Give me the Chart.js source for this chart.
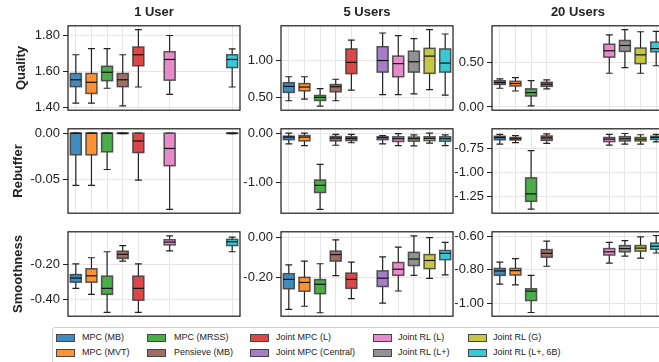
<!DOCTYPE html>
<html>
<head>
<meta charset="utf-8">
<script src="https://cdn.jsdelivr.net/npm/chart.js@4.4.0/dist/chart.umd.min.js"></script>
<style>
  body { margin: 0; width: 659px; height: 362px; overflow: hidden; background: #fff;
         position: relative; font-family: "Liberation Sans", Arial, sans-serif; color: #222; }
  canvas { position: absolute; }
  .title { position: absolute; font-weight: bold; font-size: 13px; transform: translate(-50%, -50%); white-space: nowrap; }
  .ylab { position: absolute; font-weight: bold; font-size: 13px; transform: translate(-50%, -50%) rotate(-90deg); white-space: nowrap; }
  #legend { position: absolute; left: 52px; top: 327px; width: 700px; height: 36px;
            border: 1px solid #cfcfcf; border-radius: 3px; background: #fff; }
  .item { position: absolute; font-size: 9px; line-height: 10px; white-space: nowrap; }
  .sw { position: absolute; width: 17px; height: 6px; border: 1px solid #444; }
</style>
</head>
<body>
<div id="legend"></div>
<script>
'use strict'
const methods = ['MPC (MB)', 'MPC (MVT)', 'MPC (MRSS)', 'Pensieve (MB)', 'Joint MPC (L)',
    'Joint MPC (Central)', 'Joint RL (L)', 'Joint RL (L+)', 'Joint RL (G)', 'Joint RL (L+, 6B)'];
const colors = ['#1f77b4', '#ff7f0e', '#2ca02c', '#8c564b', '#d62728',
    '#9467bd', '#e377c2', '#7f7f7f', '#bcbd22', '#17becf'];
const userGroups = ['1 User', '5 Users', '20 Users'];
const metrics = ['Quality', 'Rebuffer', 'Smoothness'];

// one row per box: [method, slot, whisker low, q1, median, q3, whisker high]
const quality1 = [
    [0, 0, 1.424, 1.516, 1.554, 1.589, 1.693],
    [1, 1, 1.424, 1.478, 1.540, 1.589, 1.727],
    [2, 2, 1.507, 1.549, 1.596, 1.629, 1.727],
    [3, 3, 1.409, 1.516, 1.554, 1.589, 1.693],
    [4, 4, 1.514, 1.632, 1.693, 1.736, 1.833],
    [6, 6, 1.473, 1.552, 1.667, 1.710, 1.800],
    [9, 10, 1.514, 1.622, 1.667, 1.693, 1.726]
];
const quality5 = [
    [0, 0, 0.458, 0.572, 0.653, 0.703, 0.784],
    [1, 1, 0.479, 0.593, 0.644, 0.691, 0.784],
    [2, 2, 0.386, 0.462, 0.504, 0.530, 0.623],
    [3, 3, 0.458, 0.580, 0.648, 0.678, 0.750],
    [4, 4, 0.602, 0.826, 0.979, 1.161, 1.280],
    [5, 6, 0.542, 0.847, 1.004, 1.191, 1.377],
    [6, 7, 0.542, 0.784, 0.962, 1.064, 1.343],
    [7, 8, 0.551, 0.847, 0.987, 1.131, 1.301],
    [8, 9, 0.610, 0.830, 1.064, 1.169, 1.424],
    [9, 10, 0.534, 0.847, 0.970, 1.161, 1.364]
];
const quality20 = [
    [0, 0, 0.211, 0.254, 0.275, 0.296, 0.317],
    [1, 1, 0.180, 0.236, 0.264, 0.289, 0.331],
    [2, 2, 0.011, 0.123, 0.162, 0.204, 0.296],
    [3, 3, 0.204, 0.232, 0.257, 0.278, 0.306],
    [6, 7, 0.380, 0.563, 0.634, 0.708, 0.813],
    [7, 8, 0.444, 0.627, 0.694, 0.750, 0.873],
    [8, 9, 0.380, 0.489, 0.588, 0.665, 0.849],
    [9, 10, 0.465, 0.623, 0.658, 0.732, 0.852]
];
const rebuffer1 = [
    [0, 0, -0.056, -0.0232, 0, 0, 0],
    [1, 1, -0.056, -0.0232, 0, 0, 0],
    [2, 2, -0.039, -0.020, 0, 0, 0],
    [3, 3, -0.0004, -0.0003, 0, 0, 0],
    [4, 4, -0.0503, -0.0208, -0.0084, 0, 0],
    [6, 6, -0.0819, -0.0349, -0.0164, 0, 0],
    [9, 10, -0.0004, -0.0003, 0, 0, 0]
];
const rebuffer5 = [
    [0, 0, -0.21, -0.122, -0.07, -0.051, 0.013],
    [1, 1, -0.244, -0.147, -0.07, -0.038, 0.013],
    [2, 2, -1.551, -1.205, -1.058, -0.949, -0.628],
    [3, 3, -0.237, -0.147, -0.09, -0.058, -0.013],
    [4, 4, -0.186, -0.141, -0.096, -0.064, -0.013],
    [5, 6, -0.21, -0.122, -0.083, -0.064, -0.038],
    [6, 7, -0.244, -0.16, -0.103, -0.064, 0],
    [7, 8, -0.25, -0.154, -0.103, -0.07, -0.026],
    [8, 9, -0.192, -0.141, -0.096, -0.064, 0.013],
    [9, 10, -0.244, -0.154, -0.103, -0.064, -0.026]
];
const rebuffer20 = [
    [0, 0, -0.701, -0.655, -0.632, -0.619, -0.600],
    [1, 1, -0.685, -0.658, -0.645, -0.632, -0.613],
    [2, 2, -1.381, -1.299, -1.221, -1.054, -0.770],
    [3, 3, -0.694, -0.662, -0.636, -0.616, -0.593],
    [6, 7, -0.711, -0.675, -0.649, -0.632, -0.600],
    [7, 8, -0.701, -0.668, -0.645, -0.623, -0.590],
    [8, 9, -0.701, -0.668, -0.649, -0.632, -0.603],
    [9, 10, -0.678, -0.652, -0.632, -0.619, -0.600]
];
const smooth1 = [
    [0, 0, -0.338, -0.302, -0.278, -0.258, -0.196],
    [1, 1, -0.373, -0.302, -0.265, -0.224, -0.160],
    [2, 2, -0.478, -0.373, -0.338, -0.267, -0.125],
    [3, 3, -0.180, -0.164, -0.140, -0.122, -0.089],
    [4, 4, -0.478, -0.407, -0.338, -0.267, -0.196],
    [6, 6, -0.120, -0.085, -0.069, -0.055, -0.033],
    [9, 10, -0.125, -0.089, -0.067, -0.053, -0.040]
];
const smooth5 = [
    [0, 0, -0.355, -0.254, -0.208, -0.180, -0.137],
    [1, 1, -0.340, -0.266, -0.223, -0.198, -0.118],
    [2, 2, -0.372, -0.278, -0.232, -0.209, -0.131],
    [3, 3, -0.189, -0.118, -0.086, -0.069, -0.014],
    [4, 4, -0.303, -0.252, -0.208, -0.177, -0.123],
    [5, 6, -0.325, -0.243, -0.202, -0.166, -0.097],
    [6, 7, -0.265, -0.188, -0.158, -0.125, -0.049],
    [7, 8, -0.188, -0.140, -0.108, -0.075, 0.006],
    [8, 9, -0.203, -0.155, -0.115, -0.086, -0.003],
    [9, 10, -0.186, -0.111, -0.080, -0.066, -0.026]
];
const smooth20 = [
    [0, 0, -0.885, -0.833, -0.807, -0.792, -0.754],
    [1, 1, -0.890, -0.831, -0.805, -0.792, -0.734],
    [2, 2, -1.054, -0.983, -0.927, -0.913, -0.833],
    [3, 3, -0.779, -0.725, -0.702, -0.680, -0.630],
    [6, 7, -0.760, -0.712, -0.693, -0.674, -0.637],
    [7, 8, -0.719, -0.693, -0.674, -0.656, -0.626],
    [8, 9, -0.730, -0.689, -0.671, -0.656, -0.604],
    [9, 10, -0.700, -0.678, -0.660, -0.641, -0.596]
];

// y tick labels and axis limits, row by row
const yTicks = [
    [[1.4, 1.6, 1.8], [0.5, 1.0], [0, 0.5]],
    [[-0.05, 0], [-1, 0], [-1.25, -1, -0.75]],
    [[-0.4, -0.2], [-0.2, 0], [-1, -0.8, -0.6]]
];
const yLimits = [
    [[1.385, 1.854], [0.33, 1.475], [-0.037, 0.916]],
    [[-0.0859, 0.0047], [-1.629, 0.10], [-1.423, -0.541]],
    [[-0.5, -0.009], [-0.389, 0.026], [-1.076, -0.574]]
];
const panelData = [
    [quality1, quality5, quality20],
    [rebuffer1, rebuffer5, rebuffer20],
    [smooth1, smooth5, smooth20]
];

const panelLeft = [68, 281, 492];
const panelTop = [23, 126, 229];
const panelW = 172, panelH = 90, axisW = 60, pad = 8;
const titleY = 11;
const ylabX = [20, 17, 17];
const FONT = '"Liberation Sans", Arial, sans-serif';

function rgba(hex, a) {
    let n = parseInt(hex.slice(1), 16);
    return 'rgba(' + (n >> 16) + ',' + ((n >> 8) & 255) + ',' + (n & 255) + ',' + a + ')';
}

let boxPlugin = {
    id: 'boxes',
    afterDatasetsDraw: function (chart) {
        let ctx = chart.ctx;
        let xs = chart.scales.x, ys = chart.scales.y;
        let slotW = xs.getPixelForValue(1) - xs.getPixelForValue(0);
        let halfBox = slotW * 0.35, halfCap = slotW * 0.22;
        chart.options.plugins.boxes.rows.forEach(function (r) {
            let cx = xs.getPixelForValue(r[1]);
            let yLo = ys.getPixelForValue(r[2]);
            let yQ1 = ys.getPixelForValue(r[3]);
            let yMed = ys.getPixelForValue(r[4]);
            let yQ3 = ys.getPixelForValue(r[5]);
            let yHi = ys.getPixelForValue(r[6]);
            ctx.save();
            // whiskers and caps
            ctx.strokeStyle = '#222';
            ctx.lineWidth = 1.2;
            ctx.beginPath();
            ctx.moveTo(cx, yHi); ctx.lineTo(cx, yQ3);
            ctx.moveTo(cx, yQ1); ctx.lineTo(cx, yLo);
            ctx.moveTo(cx - halfCap, yHi); ctx.lineTo(cx + halfCap, yHi);
            ctx.moveTo(cx - halfCap, yLo); ctx.lineTo(cx + halfCap, yLo);
            ctx.stroke();
            // box
            ctx.fillStyle = rgba(colors[r[0]], 0.85);
            ctx.fillRect(cx - halfBox, yQ3, halfBox * 2, yQ1 - yQ3);
            ctx.strokeStyle = 'rgba(60,60,60,0.85)';
            ctx.lineWidth = 1.5;
            ctx.strokeRect(cx - halfBox, yQ3, halfBox * 2, yQ1 - yQ3);
            // median
            ctx.strokeStyle = '#111';
            ctx.lineWidth = 1.2;
            ctx.beginPath();
            ctx.moveTo(cx - halfBox, yMed); ctx.lineTo(cx + halfBox, yMed);
            ctx.stroke();
            ctx.restore();
        });
    },
    afterDraw: function (chart) {
        // frame round the plot area
        let a = chart.chartArea, ctx = chart.ctx;
        ctx.save();
        ctx.strokeStyle = '#1a1a1a';
        ctx.lineWidth = 1.2;
        ctx.strokeRect(a.left, a.top, a.right - a.left, a.bottom - a.top);
        ctx.restore();
    }
};

for (let r = 0; r < 3; r++) {
    for (let c = 0; c < 3; c++) {
        let rows = panelData[r][c];
        let ticks = yTicks[r][c];
        let cv = document.createElement('canvas');
        cv.width = axisW + panelW + pad;
        cv.height = panelH + pad * 2;
        cv.style.left = (panelLeft[c] - axisW) + 'px';
        cv.style.top = (panelTop[r] - pad) + 'px';
        document.body.appendChild(cv);
        new Chart(cv, {
            type: 'scatter',
            data: { datasets: [] },
            options: {
                responsive: false,
                animation: false,
                devicePixelRatio: 1,
                layout: { padding: { top: pad, bottom: pad, left: 0, right: pad } },
                plugins: { legend: { display: false }, tooltip: { enabled: false }, boxes: { rows: rows } },
                scales: {
                    x: {
                        type: 'linear', min: -0.5, max: 10.5,
                        afterBuildTicks: function (s) { s.ticks = rows.map(function (b) { return { value: b[1] }; }); },
                        afterFit: function (s) { s.height = 0; },
                        ticks: { display: false },
                        grid: { color: '#e6e6e6', drawTicks: false },
                        border: { display: false }
                    },
                    y: {
                        min: yLimits[r][c][0], max: yLimits[r][c][1],
                        afterBuildTicks: function (s) { s.ticks = ticks.map(function (v) { return { value: v }; }); },
                        afterFit: function (s) { s.width = axisW; },
                        ticks: {
                            callback: function (v) { return Number(v).toFixed(2); },
                            font: { size: 13, family: FONT }, color: '#222', padding: 3
                        },
                        grid: { color: '#e6e6e6', tickColor: '#222', tickLength: 5 },
                        border: { display: false }
                    }
                }
            },
            plugins: [boxPlugin]
        });
    }
}

// titles and row labels
userGroups.forEach(function (t, c) {
    let d = document.createElement('div');
    d.className = 'title';
    d.textContent = t;
    d.style.left = (panelLeft[c] + panelW / 2) + 'px';
    d.style.top = titleY + 'px';
    document.body.appendChild(d);
});
metrics.forEach(function (t, r) {
    let d = document.createElement('div');
    d.className = 'ylab';
    d.textContent = t;
    d.style.left = ylabX[r] + 'px';
    d.style.top = (panelTop[r] + panelH / 2) + 'px';
    document.body.appendChild(d);
});

// legend, filled column by column in two rows
const legendSwatchX = [3, 94, 197, 320, 415];
const legendTextX = [29, 121, 223, 345, 440];
const legendRowY = [4, 19];
let legend = document.getElementById('legend');
methods.forEach(function (m, i) {
    let col = Math.floor(i / 2), row = i % 2;
    let sw = document.createElement('div');
    sw.className = 'sw';
    sw.style.left = legendSwatchX[col] + 'px';
    sw.style.top = (legendRowY[row] + 2) + 'px';
    sw.style.background = rgba(colors[i], 0.85);
    legend.appendChild(sw);
    let tx = document.createElement('div');
    tx.className = 'item';
    tx.textContent = m;
    tx.style.left = legendTextX[col] + 'px';
    tx.style.top = legendRowY[row] + 'px';
    legend.appendChild(tx);
});
</script>
</body>
</html>
